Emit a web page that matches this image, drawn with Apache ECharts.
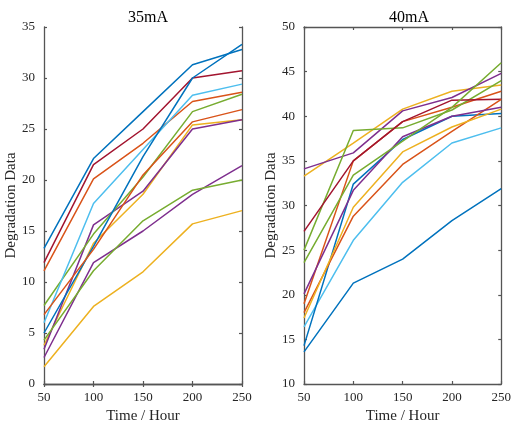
<!DOCTYPE html>
<html>
<head>
<meta charset="utf-8">
<script src="https://cdn.jsdelivr.net/npm/echarts@6/dist/echarts.min.js"></script>
<style>html,body{margin:0;padding:0;background:#fff;}#c{width:514px;height:429px;}</style>
</head>
<body>
<div id="c"></div>
<script>
// ---- data ----
var hours = [50, 100, 150, 200, 250];
var titles = ['35mA', '40mA'];
var xName = 'Time / Hour';
var yName = 'Degradation Data';
var colorOrder = ['#0072BD', '#D95319', '#EDB120', '#7E2F8E', '#77AC30', '#4DBEEE', '#A2142F'];

// 35mA panel (12 units)
var a35_1  = [13.3, 22.1, 26.7, 31.3, 32.8];
var a35_2  = [11.1, 20.1, 23.6, 27.7, 28.6];
var a35_3  = [3.8, 13.8, 18.6, 25.4, 25.9];
var a35_4  = [3.4, 15.6, 18.9, 25.0, 25.9];
var a35_5  = [7.7, 14.7, 20.3, 26.7, 28.4];
var a35_6  = [6.0, 17.7, 23.0, 28.3, 29.4];
var a35_7  = [11.9, 21.5, 25.0, 30.0, 30.7];
var a35_8  = [5.0, 13.5, 22.3, 30.0, 33.3];
var a35_9  = [6.8, 13.2, 20.5, 25.7, 26.9];
var a35_10 = [1.7, 7.6, 11.0, 15.7, 17.0];
var a35_11 = [2.6, 11.9, 15.0, 18.6, 21.4];
var a35_12 = [4.3, 11.1, 16.0, 19.0, 20.0];

// 40mA panel (12 units)
var a40_1  = [13.6, 21.3, 24.0, 28.3, 31.9];
var a40_2  = [19.0, 35.0, 39.4, 41.0, 42.8];
var a40_3  = [33.3, 37.0, 40.8, 42.8, 43.5];
var a40_4  = [34.1, 35.9, 40.6, 42.1, 44.8];
var a40_5  = [25.0, 38.4, 38.7, 40.7, 44.0];
var a40_6  = [16.4, 26.1, 32.6, 37.0, 38.7];
var a40_7  = [27.1, 35.0, 39.4, 41.8, 41.9];
var a40_8  = [14.3, 32.4, 37.4, 40.0, 40.3];
var a40_9  = [18.0, 28.8, 34.6, 38.3, 41.9];
var a40_10 = [17.4, 29.8, 36.0, 38.8, 40.8];
var a40_11 = [20.1, 31.7, 37.7, 40.0, 41.0];
var a40_12 = [23.6, 33.4, 37.2, 41.0, 46.0];

var panel35 = [a35_1,a35_2,a35_3,a35_4,a35_5,a35_6,a35_7,a35_8,a35_9,a35_10,a35_11,a35_12];
var panel40 = [a40_1,a40_2,a40_3,a40_4,a40_5,a40_6,a40_7,a40_8,a40_9,a40_10,a40_11,a40_12];
var yRanges = [[0, 35], [10, 50]];

// ---- chart ----
var FONT = 'Liberation Serif';
var AX = '#555555';
var grids = [
  {left: 44, right: 272, top: 27, bottom: 41},
  {left: 304, right: 10, top: 27, bottom: 41}
];
function xAxes(g) {
  var base = {type: 'value', min: 50, max: 250, interval: 50, gridIndex: g,
    axisLine: {show: true, lineStyle: {color: AX, width: 1.3}},
    axisTick: {show: true, inside: true, length: 3, lineStyle: {color: AX, width: 1.2}},
    splitLine: {show: false}};
  return [
    Object.assign({}, base, {position: 'bottom',
      axisLabel: {show: true, color: '#262626', fontFamily: FONT, fontSize: 13, margin: 7},
      name: xName, nameLocation: 'middle', nameGap: 25,
      nameTextStyle: {color: '#262626', fontFamily: FONT, fontSize: 15}}),
    Object.assign({}, base, {position: 'top', axisLabel: {show: false}})
  ];
}
function yAxes(g) {
  var base = {type: 'value', min: yRanges[g][0], max: yRanges[g][1], interval: 5, gridIndex: g,
    axisLine: {show: true, lineStyle: {color: AX, width: 1.3}},
    axisTick: {show: true, inside: true, length: 3, lineStyle: {color: AX, width: 1.2}},
    splitLine: {show: false}};
  return [
    Object.assign({}, base, {position: 'left',
      axisLabel: {show: true, color: '#262626', fontFamily: FONT, fontSize: 13, margin: 9},
      name: yName, nameLocation: 'middle', nameGap: 25,
      nameTextStyle: {color: '#262626', fontFamily: FONT, fontSize: 15}}),
    Object.assign({}, base, {position: 'right', axisLabel: {show: false}})
  ];
}
var series = [];
[panel35, panel40].forEach(function (panel, g) {
  panel.forEach(function (vals, i) {
    series.push({
      type: 'line', xAxisIndex: g * 2, yAxisIndex: g * 2,
      data: hours.map(function (h, k) { return [h, vals[k]]; }),
      symbol: 'none', silent: true,
      lineStyle: {width: 1.5, color: colorOrder[i % colorOrder.length]},
      z: 2
    });
  });
});
var chart = echarts.init(document.getElementById('c'), null, {renderer: 'canvas'});
chart.setOption({
  animation: false,
  backgroundColor: '#fff',
  title: [
    {text: titles[0], left: 143, top: 5, textAlign: 'center',
      textStyle: {fontFamily: FONT, fontSize: 16, fontWeight: 'normal', color: '#000'}},
    {text: titles[1], left: 404, top: 5, textAlign: 'center',
      textStyle: {fontFamily: FONT, fontSize: 16, fontWeight: 'normal', color: '#000'}}
  ],
  grid: grids,
  xAxis: xAxes(0).concat(xAxes(1)),
  yAxis: yAxes(0).concat(yAxes(1)),
  series: series
});
</script>
</body>
</html>
